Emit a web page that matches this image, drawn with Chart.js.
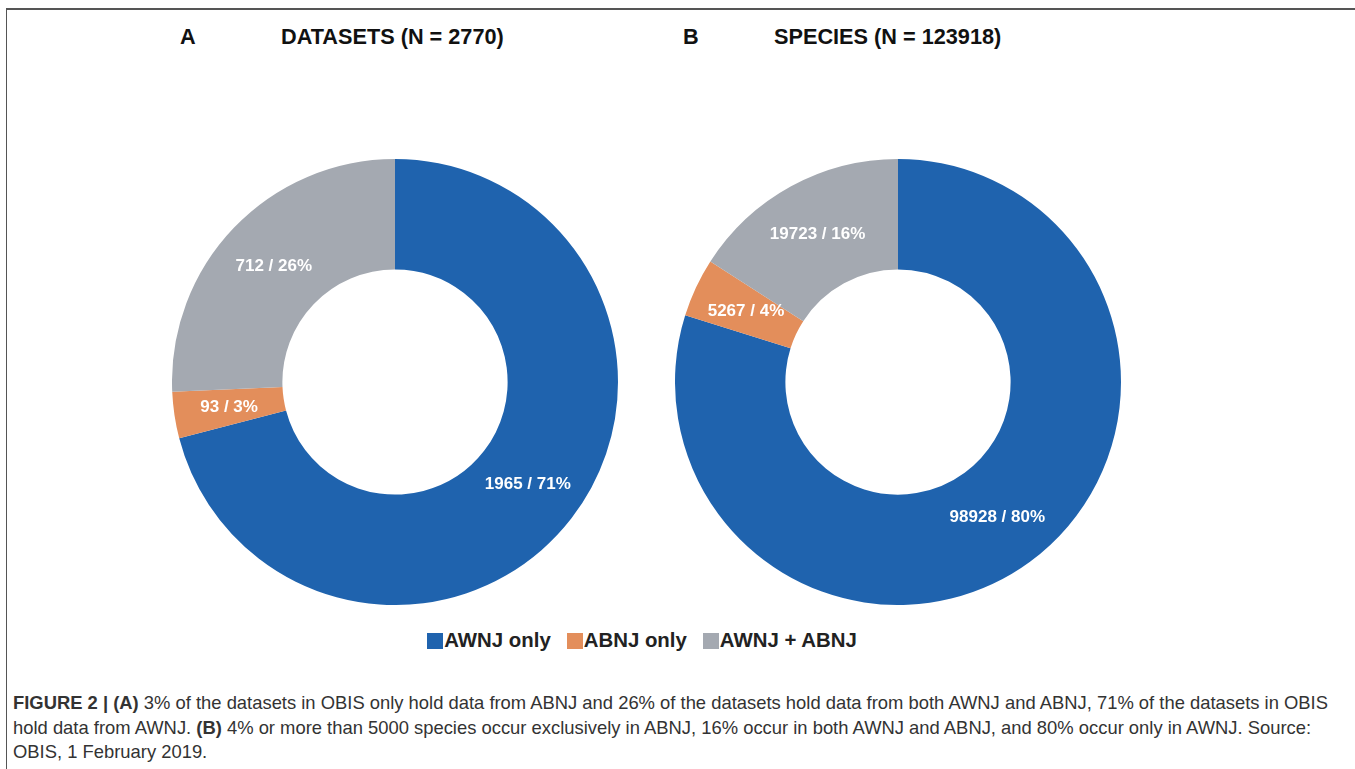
<!DOCTYPE html>
<html>
<head>
<meta charset="utf-8">
<title>Figure 2</title>
<script src="https://cdn.jsdelivr.net/npm/chart.js@4/dist/chart.umd.min.js"></script>
<style>
  body { margin: 0; background: #fff; font-family: "Liberation Sans", Arial, sans-serif; }
  #page { position: relative; width: 1355px; height: 769px; overflow: hidden; }
  #frame { position: absolute; left: 6px; top: 8px; width: 1400px; height: 800px;
           border-top: 2px solid #555; border-left: 1.5px solid #555; }
  .title { position: absolute; top: 24px; font-size: 21.7px; font-weight: bold; color: #111; white-space: nowrap; }
  .box { position: absolute; width: 446px; height: 446px; }
  #legend { position: absolute; top: 629px; left: 0; width: 1284px; display: flex; justify-content: center;
            font-size: 20.4px; font-weight: bold; color: #222; }
  #legend .item { display: flex; align-items: center; margin: 0 8px; }
  #legend .swatch { width: 16px; height: 16px; margin-right: 1px; }
  #caption { position: absolute; left: 13px; top: 691px; font-size: 18.4px; line-height: 24.5px; color: #333; white-space: nowrap; }
</style>
</head>
<body>
<div id="page">
  <div id="frame"></div>
  <div class="title" style="left:180px">A</div>
  <div class="title" style="left:281px">DATASETS (N = 2770)</div>
  <div class="title" style="left:683px">B</div>
  <div class="title" style="left:774px">SPECIES (N = 123918)</div>
  <div class="box" style="left:172px; top:159px"><canvas id="chartA"></canvas></div>
  <div class="box" style="left:675px; top:159px"><canvas id="chartB"></canvas></div>
  <div id="legend"></div>
  <div id="caption">
    <b>FIGURE 2 | (A)</b> 3% of the datasets in OBIS only hold data from ABNJ and 26% of the datasets hold data from both AWNJ and ABNJ, 71% of the datasets in OBIS<br>
    hold data from AWNJ. <b>(B)</b> 4% or more than 5000 species occur exclusively in ABNJ, 16% occur in both AWNJ and ABNJ, and 80% occur only in AWNJ. Source:<br>
    OBIS, 1 February 2019.
  </div>
</div>
<script>
// Categories and values
var categories = ['AWNJ only', 'ABNJ only', 'AWNJ + ABNJ'];
var datasetCounts = [1965, 93, 712];      // total 2770
var speciesCounts = [98928, 5267, 19723]; // total 123918
var colors = ['#1f63ae', '#e38e5b', '#a4a9b1'];

// Draws "count / pct%" in white on each slice, at the arc's middle
var sliceLabels = {
  id: 'sliceLabels',
  afterDatasetsDraw: function(chart) {
    var ctx = chart.ctx;
    var data = chart.data.datasets[0].data;
    var total = data.reduce(function(a, b) { return a + b; }, 0);
    ctx.save();
    ctx.fillStyle = '#fff';
    ctx.font = 'bold 17px "Liberation Sans", Arial, sans-serif';
    ctx.textAlign = 'center';
    ctx.textBaseline = 'middle';
    chart.getDatasetMeta(0).data.forEach(function(arc, i) {
      var p = arc.tooltipPosition();
      ctx.fillText(data[i] + ' / ' + Math.round(data[i] / total * 100) + '%', p.x, p.y);
    });
    ctx.restore();
  }
};

function makeDonut(id, values) {
  return new Chart(document.getElementById(id), {
    type: 'doughnut',
    data: {
      labels: categories,
      datasets: [{ data: values, backgroundColor: colors, borderWidth: 0, hoverOffset: 0 }]
    },
    options: {
      responsive: true,
      maintainAspectRatio: false,
      animation: false,
      cutout: '50.5%',
      layout: { padding: 0 },
      plugins: { legend: { display: false }, tooltip: { enabled: false } }
    },
    plugins: [sliceLabels]
  });
}

makeDonut('chartA', datasetCounts);
makeDonut('chartB', speciesCounts);

// Shared legend under both charts
var legend = document.getElementById('legend');
categories.forEach(function(name, i) {
  var item = document.createElement('div');
  item.className = 'item';
  item.innerHTML = '<span class="swatch" style="background:' + colors[i] + '"></span>' + name;
  legend.appendChild(item);
});
</script>
</body>
</html>
